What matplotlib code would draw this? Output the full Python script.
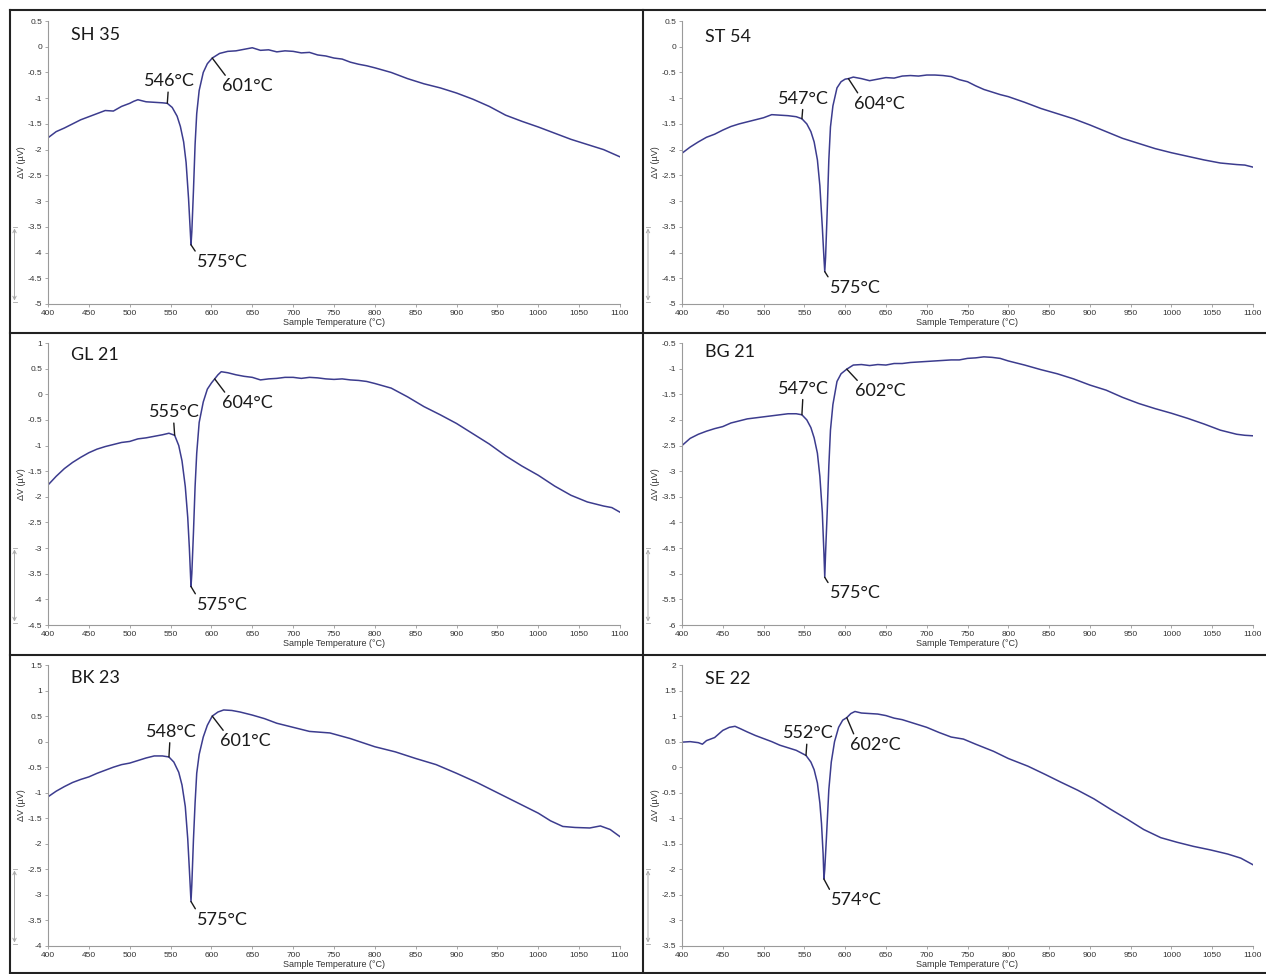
import matplotlib
matplotlib.use("Agg")
import matplotlib.pyplot as plt
from matplotlib.lines import Line2D
from matplotlib.patches import FancyArrowPatch

plt.rcParams['axes.unicode_minus'] = False

# ---- data (temperature in degC, dV in microvolt) ----
sh35_t = [400, 410, 420, 430, 440, 450, 460, 470, 480, 490, 500, 505, 510, 520, 530, 540, 546,
          552, 558, 562, 566, 569, 572, 574, 575, 576, 578, 580, 582, 585, 590, 595, 601, 610,
          620, 630, 640, 650, 660, 670, 680, 690, 700, 710, 720, 730, 740, 750, 760, 770, 780,
          790, 800, 820, 840, 860, 880, 900, 920, 940, 960, 980, 1000, 1020, 1040, 1060, 1080,
          1090, 1100]
sh35_v = [-1.77, -1.65, -1.58, -1.50, -1.42, -1.36, -1.30, -1.24, -1.25, -1.16, -1.10, -1.06,
          -1.03, -1.07, -1.08, -1.09, -1.10, -1.18, -1.35, -1.55, -1.85, -2.25, -2.95, -3.55,
          -3.85, -3.60, -2.80, -1.90, -1.30, -0.85, -0.50, -0.33, -0.22, -0.13, -0.09, -0.08,
          -0.05, -0.02, -0.07, -0.06, -0.10, -0.08, -0.09, -0.12, -0.11, -0.16, -0.18, -0.22,
          -0.24, -0.30, -0.34, -0.37, -0.41, -0.50, -0.62, -0.72, -0.80, -0.90, -1.02, -1.16,
          -1.33, -1.45, -1.56, -1.68, -1.80, -1.90, -2.00, -2.07, -2.14]

st54_t = [400, 410, 420, 430, 440, 450, 460, 470, 480, 490, 500, 510, 520, 530, 540, 547, 553,
          558, 562, 566, 569, 572, 574, 575, 576, 578, 580, 582, 585, 590, 595, 600, 604, 610,
          620, 630, 640, 650, 660, 670, 680, 690, 700, 710, 720, 730, 740, 750, 760, 770, 780,
          790, 800, 820, 840, 860, 880, 900, 920, 940, 960, 980, 1000, 1020, 1040, 1060, 1080,
          1090, 1100]
st54_v = [-2.07, -1.95, -1.85, -1.76, -1.70, -1.62, -1.55, -1.50, -1.46, -1.42, -1.38, -1.32,
          -1.33, -1.34, -1.36, -1.40, -1.50, -1.65, -1.85, -2.20, -2.70, -3.50, -4.10, -4.37,
          -4.10, -3.20, -2.20, -1.56, -1.15, -0.80, -0.68, -0.63, -0.62, -0.59, -0.62, -0.66,
          -0.63, -0.60, -0.61, -0.57, -0.56, -0.57, -0.55, -0.55, -0.56, -0.58, -0.64, -0.68,
          -0.76, -0.83, -0.88, -0.93, -0.97, -1.08, -1.20, -1.30, -1.40, -1.52, -1.65, -1.78,
          -1.88, -1.98, -2.06, -2.13, -2.20, -2.26, -2.29, -2.30, -2.34]

gl21_t = [400, 410, 420, 430, 440, 450, 460, 470, 480, 490, 500, 510, 520, 530, 540, 548, 555,
          560, 564, 568, 571, 573, 575, 576, 578, 580, 582, 585, 590, 595, 600, 604, 608, 612,
          620, 630, 640, 650, 660, 670, 680, 690, 700, 710, 720, 730, 740, 750, 760, 770, 780,
          790, 800, 820, 840, 860, 880, 900, 920, 940, 960, 980, 1000, 1020, 1040, 1060, 1080,
          1090, 1100]
gl21_v = [-1.77, -1.60, -1.45, -1.33, -1.23, -1.14, -1.07, -1.02, -0.98, -0.94, -0.92, -0.87,
          -0.85, -0.82, -0.79, -0.76, -0.80, -1.00, -1.30, -1.80, -2.40, -3.00, -3.75, -3.50,
          -2.70, -1.80, -1.15, -0.55, -0.15, 0.10, 0.22, 0.30, 0.38, 0.44, 0.42, 0.38, 0.35,
          0.33, 0.28, 0.30, 0.31, 0.33, 0.33, 0.31, 0.33, 0.32, 0.30, 0.29, 0.30, 0.28, 0.27,
          0.25, 0.21, 0.12, -0.05, -0.24, -0.40, -0.57, -0.77, -0.97, -1.20, -1.40, -1.58,
          -1.79, -1.97, -2.10, -2.18, -2.21, -2.30]

bg21_t = [400, 410, 420, 430, 440, 450, 460, 470, 480, 490, 500, 510, 520, 530, 540, 547, 553,
          558, 562, 566, 569, 572, 574, 575, 576, 578, 580, 582, 585, 590, 595, 602, 610, 620,
          630, 640, 650, 660, 670, 680, 690, 700, 710, 720, 730, 740, 750, 760, 770, 780, 790,
          800, 820, 840, 860, 880, 900, 920, 940, 960, 980, 1000, 1020, 1040, 1060, 1080, 1090,
          1100]
bg21_v = [-2.50, -2.36, -2.28, -2.22, -2.17, -2.13, -2.06, -2.02, -1.98, -1.96, -1.94, -1.92,
          -1.90, -1.88, -1.88, -1.90, -2.00, -2.15, -2.35, -2.65, -3.10, -3.80, -4.60, -5.07,
          -4.60, -3.80, -2.90, -2.20, -1.70, -1.25, -1.10, -1.01, -0.93, -0.92, -0.94, -0.92,
          -0.93, -0.90, -0.90, -0.88, -0.87, -0.86, -0.85, -0.84, -0.83, -0.83, -0.80, -0.79,
          -0.77, -0.78, -0.80, -0.85, -0.93, -1.02, -1.10, -1.20, -1.32, -1.42, -1.56, -1.68,
          -1.78, -1.87, -1.97, -2.08, -2.20, -2.28, -2.30, -2.31]

bk23_t = [400, 410, 420, 430, 440, 450, 460, 470, 480, 490, 500, 510, 520, 530, 540, 548, 554,
          560, 564, 568, 571, 573, 575, 576, 578, 580, 582, 585, 590, 595, 601, 608, 615, 625,
          635, 650, 665, 680, 700, 720, 745, 770, 800, 825, 850, 875, 900, 925, 950, 975, 1000,
          1015, 1030, 1045, 1063, 1076, 1088, 1100]
bk23_v = [-1.08, -0.97, -0.88, -0.80, -0.74, -0.69, -0.62, -0.56, -0.50, -0.45, -0.42, -0.37,
          -0.32, -0.28, -0.28, -0.30, -0.40, -0.60, -0.85, -1.27, -1.90, -2.50, -3.13, -2.80,
          -1.92, -1.20, -0.62, -0.25, 0.09, 0.32, 0.50, 0.58, 0.62, 0.61, 0.58, 0.52, 0.45,
          0.36, 0.28, 0.20, 0.17, 0.06, -0.10, -0.20, -0.33, -0.45, -0.62, -0.80, -1.00, -1.20,
          -1.40, -1.55, -1.66, -1.68, -1.69, -1.65, -1.72, -1.86]

se22_t = [400, 410, 420, 425, 430, 440, 450, 458, 465, 472, 480, 490, 500, 510, 520, 530, 540,
          546, 552, 558, 562, 566, 569, 571, 573, 574, 575, 577, 580, 583, 587, 592, 597, 602,
          607, 612, 620, 630, 640, 650, 660, 670, 680, 690, 700, 715, 730, 745, 760, 782, 800,
          824, 845, 864, 885, 905, 925, 946, 966, 987, 1007, 1027, 1048, 1069, 1085, 1100]
se22_v = [0.49, 0.50, 0.48, 0.45, 0.52, 0.58, 0.72, 0.78, 0.80, 0.75, 0.69, 0.62, 0.56, 0.50,
          0.43, 0.38, 0.33, 0.28, 0.23, 0.10, -0.05, -0.31, -0.70, -1.10, -1.70, -2.19, -2.00,
          -1.40, -0.44, 0.10, 0.50, 0.78, 0.92, 0.97, 1.05, 1.09, 1.06, 1.05, 1.04, 1.01, 0.96,
          0.93, 0.88, 0.83, 0.78, 0.68, 0.59, 0.55, 0.45, 0.31, 0.17, 0.02, -0.14, -0.29, -0.45,
          -0.62, -0.82, -1.02, -1.22, -1.38, -1.47, -1.55, -1.62, -1.70, -1.78, -1.91]

names = ["SH 35", "ST 54", "GL 21", "BG 21", "BK 23", "SE 22"]
temps = [sh35_t, st54_t, gl21_t, bg21_t, bk23_t, se22_t]
values = [sh35_v, st54_v, gl21_v, bg21_v, bk23_v, se22_v]
ylims = [(-5, 0.5), (-5, 0.5), (-4.5, 1), (-6, -0.5), (-4, 1.5), (-3.5, 2)]
# onset, end and peak temperatures marked on each curve
onsets = [546, 547, 555, 547, 548, 552]
ends = [601, 604, 604, 602, 601, 602]
peaks = [575, 575, 575, 575, 575, 574]
xticks = list(range(400, 1101, 50))

# ---- layout (pixels of the 1266x974 picture) ----
W, H = 1266, 974
col_x = [(48, 620), (682, 1253)]
row_y = [(21, 304), (343, 625), (665, 946)]
name_y = [0.933, 0.926, 0.94, 0.95, 0.936, 0.933]
onset_off = [(2, 14), (2, 12), (0, 15), (2, 18), (2, 17), (2, 14)]
end_off = [(10, -20), (6, -17), (7, -16), (8, -14), (8, -17), (3, -19)]
peak_off = [(6, -9), (5, -8), (6, -10), (5, -8), (6, -10), (7, -13)]

line_col = "#3c3c8e"
tick_font = ["Liberation Sans", "DejaVu Sans"]
label_font = ["Lato", "DejaVu Sans"]

fig = plt.figure(figsize=(W / 100, H / 100), dpi=100)
fig.patch.set_facecolor("white")


def leader(ax, txt, x, y, off, ha, va, rel):
    ax.annotate(txt, xy=(x, y), xytext=off, textcoords="offset pixels",
                ha=ha, va=va, fontsize=13, family=label_font, color="#1a1a1a",
                arrowprops=dict(arrowstyle="-", color="#1a1a1a", lw=1.0,
                                shrinkA=0, shrinkB=0, relpos=rel))


for i in range(6):
    col, row = i % 2, i // 2
    x0, x1 = col_x[col]
    y0, y1 = row_y[row]
    ax = fig.add_axes([x0 / W, 1 - y1 / H, (x1 - x0) / W, (y1 - y0) / H])
    t, v = temps[i], values[i]
    ax.plot(t, v, color=line_col, lw=1.1)

    ax.set_xlim(400, 1100)
    ax.set_ylim(*ylims[i])
    ax.set_xticks(xticks)
    lo, hi = ylims[i]
    yt = [lo + 0.5 * k for k in range(int(round((hi - lo) / 0.5)) + 1)]
    ax.set_yticks(yt)
    ax.set_yticklabels(["{:g}".format(round(y, 1)) for y in yt], family=tick_font)
    ax.set_xticklabels([str(x) for x in xticks], family=tick_font)
    ax.tick_params(labelsize=6, labelcolor="#333333", color="#999999", length=2,
                   width=0.6, pad=2)
    for s in ["top", "right"]:
        ax.spines[s].set_visible(False)
    for s in ["left", "bottom"]:
        ax.spines[s].set_color("#9a9a9a")
        ax.spines[s].set_linewidth(0.8)
    ax.set_xlabel("Sample Temperature (°C)", fontsize=6.5, family=tick_font,
                  color="#333333", labelpad=1)
    ax.set_ylabel("ΔV (µV)", fontsize=6.5, family=tick_font, color="#333333",
                  labelpad=1)

    ax.text(0.041, name_y[i], names[i], transform=ax.transAxes, fontsize=13,
            family=label_font, color="#1a1a1a", va="baseline", ha="left")

    a = onsets[i]
    leader(ax, f"{a}°C", a, v[t.index(a)], onset_off[i], "center", "bottom", (0.48, 0))
    b = ends[i]
    leader(ax, f"{b}°C", b, v[t.index(b)], end_off[i], "left", "top", (0.1, 1))
    p = peaks[i]
    leader(ax, f"{p}°C", p, v[t.index(p)], peak_off[i], "left", "top", (0, 1))

    # small scale arrow at the left of each panel
    bx = (10 if col == 0 else 643.5) + 4.5
    for yy in (y1 - 2, y1 - 77):
        fig.add_artist(Line2D([(bx - 2) / W, (bx + 2) / W], [1 - yy / H, 1 - yy / H],
                              transform=fig.transFigure, color="#a8a8a8", lw=0.6))
    fig.add_artist(FancyArrowPatch(
        (bx / W, 1 - (y1 - 2) / H), (bx / W, 1 - (y1 - 77) / H),
        transform=fig.transFigure, arrowstyle="<->", mutation_scale=6,
        color="#a8a8a8", lw=0.7, shrinkA=1, shrinkB=1))

# panel frame
frame = [((10, 10), (1266, 10)), ((10, 10), (10, 974)), ((643.5, 10), (643.5, 974)),
         ((10, 333), (1266, 333)), ((10, 655), (1266, 655)), ((10, 972.5), (1266, 972.5))]
for (xa, ya), (xb, yb) in frame:
    fig.add_artist(Line2D([xa / W, xb / W], [1 - ya / H, 1 - yb / H],
                          transform=fig.transFigure, color="#222222", lw=1.5))

fig.savefig("out.png", dpi=100)
